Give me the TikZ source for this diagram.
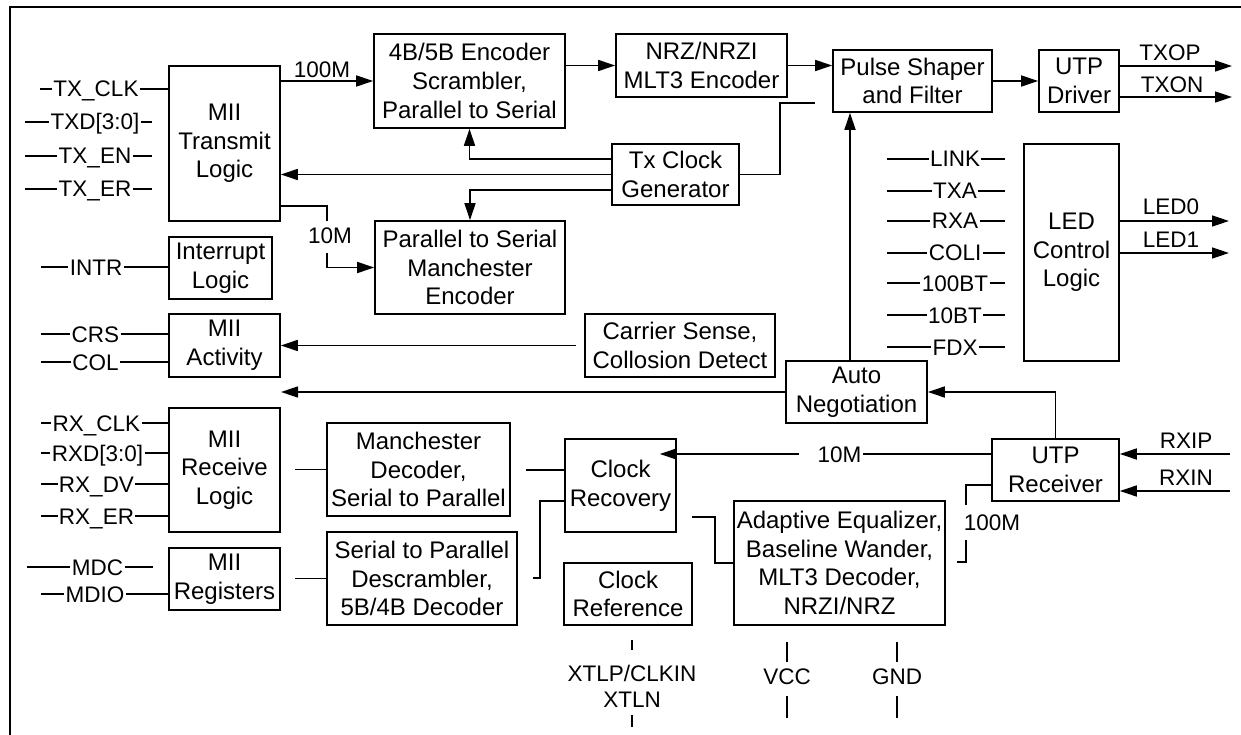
\documentclass[tikz,border=0pt]{standalone}
\usepackage{fontspec}
\setmainfont{Liberation Sans}
\usetikzlibrary{arrows.meta}
\newcommand\bx[6]{\node[blk, minimum width=#4-#2, minimum height=#5-#3] (#1) at ({(#2+#4)/2},{(#3+#5)/2}) {#6};}
\begin{document}
\begin{tikzpicture}[x=1pt,y=-1pt, line width=1.7pt,
  blk/.style={draw, inner sep=0pt, align=center, font=\fontsize{24}{28.6}\selectfont},
  pinl/.style={inner sep=0.6pt, text height=16pt, text depth=0pt, font=\fontsize{22.5}{27}\selectfont},
  lbl/.style={inner sep=0pt, align=center, font=\fontsize{22.5}{26}\selectfont},
  arr/.style={-{Triangle[length=17pt,width=11pt]}},
  ]
\useasboundingbox (0,0) rectangle (1241,735);
% frame
\coordinate (fbl) at (10,735); \coordinate (ftl) at (10,7); \coordinate (ftr) at (1241,7);
\draw[line width=1.8pt] (fbl) -- (ftl) -- (ftr);

% blocks
\bx{txl}{169}{66}{280}{221}{MII\\Transmit\\Logic}
\bx{enc}{374}{34}{565}{128}{4B/5B Encoder\\Scrambler,\\Parallel to Serial}
\bx{nrz}{616}{34}{787}{97}{NRZ/NRZI\\MLT3 Encoder}
\bx{pulse}{833}{50}{992}{112}{Pulse Shaper\\and Filter}
\bx{utpd}{1039}{50}{1119}{112}{UTP\\Driver}
\bx{txclk}{612}{144}{739}{205}{Tx Clock\\Generator}
\bx{p2s}{375}{221}{565}{314}{Parallel to Serial\\Manchester\\Encoder}
\bx{intr}{169}{237}{272}{299}{Interrupt\\Logic}
\bx{miiact}{169}{314}{280}{377}{MII\\Activity}
\bx{csense}{585}{314}{775}{377}{Carrier Sense,\\Collosion Detect}
\bx{led}{1024}{144}{1119}{361}{LED\\Control\\Logic}
\bx{auto}{786}{361}{927}{423}{Auto\\Negotiation}
\bx{mrx}{169}{408}{280}{532}{MII\\Receive\\Logic}
\bx{mdec}{327}{423}{510}{516}{Manchester\\Decoder,\\Serial to Parallel}
\bx{crec}{565}{439}{676}{532}{Clock\\Recovery}
\bx{utpr}{992}{439}{1119}{501}{UTP\\Receiver}
\bx{desc}{327}{532}{517}{625}{Serial to Parallel\\Descrambler,\\5B/4B Decoder}
\bx{mreg}{169}{548}{280}{610}{MII\\Registers}
\bx{cref}{564}{563}{692}{625}{Clock\\Reference}
\bx{adapt}{734}{501}{945}{625}{Adaptive Equalizer,\\Baseline Wander,\\MLT3 Decoder,\\NRZI/NRZ}

% transmit path
\draw[arr] (txl.east |- enc.west) -- (enc.west);
\node[lbl] (l100t) at (322,70) {100M};
\draw[arr] (enc.east |- nrz.west) -- (nrz.west);
\draw[arr] (nrz.east) -- (nrz.east -| pulse.west);
\draw[arr] (pulse.east) -- (utpd.west);
\coordinate (txop) at (1232,66); \coordinate (txon) at (1232,97);
\draw[arr] (txop -| utpd.east) -- (txop);
\draw[arr] (txon -| utpd.east) -- (txon);
\node[lbl] (ltxop) at (1170,53) {TXOP};
\node[lbl] (ltxon) at (1172,85) {TXON};

% tx clock
\coordinate (tcp) at (815,103);
\draw (txclk.east) -| ([xshift=-35pt]tcp) -- (tcp);
\draw[arr] ([yshift=15.5pt]txclk.west) -| (enc.south);
\draw[arr] (txclk.west) -- (txclk.west -| txl.east);
\draw[arr] ([yshift=-15.5pt]txclk.west) -| (p2s.north);

% 10M to manchester encoder
\coordinate (m10a) at (327,221); \coordinate (m10b) at (327,253);
\draw ([yshift=-62.5pt]txl.east) -| (m10a);
\node[lbl] (l10t) at (330,236) {10M};
\draw[arr] (m10b) |- (p2s.west);

% carrier sense, auto negotiation
\draw[arr] ([xshift=-8pt]csense.west) -- (miiact.east);
\coordinate (autoL) at (281,392);
\draw[arr] (auto.west) -- (autoL);
\draw[arr] ([xshift=-6.5pt]auto.north) -- ([xshift=-6.5pt]auto.north |- pulse.south);
\draw[arr] (utpr.north) |- (auto.east);

% receive inputs
\coordinate (rxip) at (1230,454); \coordinate (rxin) at (1230,491);
\draw[arr] (rxip) -- (rxip -| utpr.east);
\draw[arr] (rxin) -- (rxin -| utpr.east);
\node[lbl] (lrxip) at (1186,441) {RXIP};
\node[lbl] (lrxin) at (1186,478) {RXIN};

% 10M receive
\node[pinl] (l10r) at (839.5,454) {10M};
\draw ([yshift=16pt]utpr.west) -- (l10r.east);
\draw[arr] ([xshift=-17pt]l10r.west) -- ([xshift=-17pt]l10r.west -| crec.east);

% 100M receive
\coordinate (c100a) at (966,505); \coordinate (c100b) at (966,540);
\draw ([yshift=-15pt]utpr.west) -| (c100a);
\node[lbl] (l100r) at (992,523) {100M};
\draw (c100b) -- ++(0,22) -- ++(-9,0);

% decoder links
\draw (mdec.west) -- ([xshift=-31pt]mdec.west);
\draw (desc.west) -- ([xshift=-31pt]desc.west);
\coordinate (md1) at (526,470);
\draw (md1) -- (md1 -| crec.west);
\coordinate (dc1) at (533,578);
\draw (dc1) -- ++(7,0) |- ([yshift=-15.5pt]crec.west);
\coordinate (ca1) at (692,517);
\draw (ca1) -- ++(23,0) |- (adapt.west);

% bottom pins
\node[lbl] (xtl) at (632,686) {XTLP/CLKIN\\XTLN};
\coordinate (x1) at (632,640); \coordinate (x2) at (632,650);
\coordinate (x3) at (632,715); \coordinate (x4) at (632,727);
\draw (x1) -- (x2); \draw (x3) -- (x4);
\node[lbl] (vcc) at (787,677) {VCC};
\coordinate (v1) at (787,642); \coordinate (v2) at (787,662);
\coordinate (v3) at (787,696); \coordinate (v4) at (787,718);
\draw (v1) -- (v2); \draw (v3) -- (v4);
\node[lbl] (gnd) at (897,677) {GND};
\coordinate (g1) at (897,642); \coordinate (g2) at (897,662);
\coordinate (g3) at (897,696); \coordinate (g4) at (897,718);
\draw (g1) -- (g2); \draw (g3) -- (g4);

% left pins: transmit
\node[pinl] (ptxclk) at (96,89) {TX\_CLK};
\coordinate (ptxclkL) at (40,89);
\draw (ptxclkL) -- (ptxclk.west); \draw (ptxclk.east) -- (ptxclk.east -| txl.west);
\foreach \n/\t/\y/\c in {ptxd/TXD[3:0]/122/95, ptxen/TX\_EN/156/95, ptxer/TX\_ER/189/95}{
  \node[pinl] (\n) at (\c,\y) {\t};
  \coordinate (\n L) at (25,\y); \coordinate (\n R) at (152,\y);
  \draw (\n L) -- (\n.west); \draw (\n.east) -- (\n R);
}
% left pins to boxes
\foreach \n/\t/\y/\c/\xl/\b in {pintr/INTR/267/96/41/intr, pcrs/CRS/334/95.5/41/miiact, pcol/COL/362/95.5/41/miiact,
  prxclk/RX\_CLK/423/96.5/41/mrx, prxd/RXD[3:0]/453/97.5/41/mrx, prxdv/RX\_DV/484/96.5/41/mrx,
  prxer/RX\_ER/516/96.5/41/mrx, pmdio/MDIO/594/95/41/mreg}{
  \node[pinl] (\n) at (\c,\y) {\t};
  \coordinate (\n L) at (\xl,\y);
  \draw (\n L) -- (\n.west); \draw (\n.east) -- (\n.east -| \b.west);
}
\node[pinl] (pmdc) at (97.5,567) {MDC};
\coordinate (pmdcL) at (27,567); \coordinate (pmdcR) at (153,567);
\draw (pmdcL) -- (pmdc.west); \draw (pmdc.east) -- (pmdcR);

% LED pins
\foreach \n/\t/\y in {plink/LINK/159, ptxa/TXA/191, prxa/RXA/221, pcoli/COLI/253, p100bt/100BT/283, p10bt/10BT/315, pfdx/FDX/347}{
  \node[pinl] (\n) at (955,\y) {\t};
  \coordinate (\n L) at (887,\y); \coordinate (\n R) at (1005,\y);
  \draw (\n L) -- (\n.west); \draw (\n.east) -- (\n R);
}
\coordinate (led0e) at (1229,221); \coordinate (led1e) at (1229,253);
\draw[arr] (led0e -| led.east) -- (led0e);
\draw[arr] (led1e -| led.east) -- (led1e);
\node[lbl] (lled0) at (1171,207) {LED0};
\node[lbl] (lled1) at (1171,240) {LED1};
\end{tikzpicture}
\end{document}
